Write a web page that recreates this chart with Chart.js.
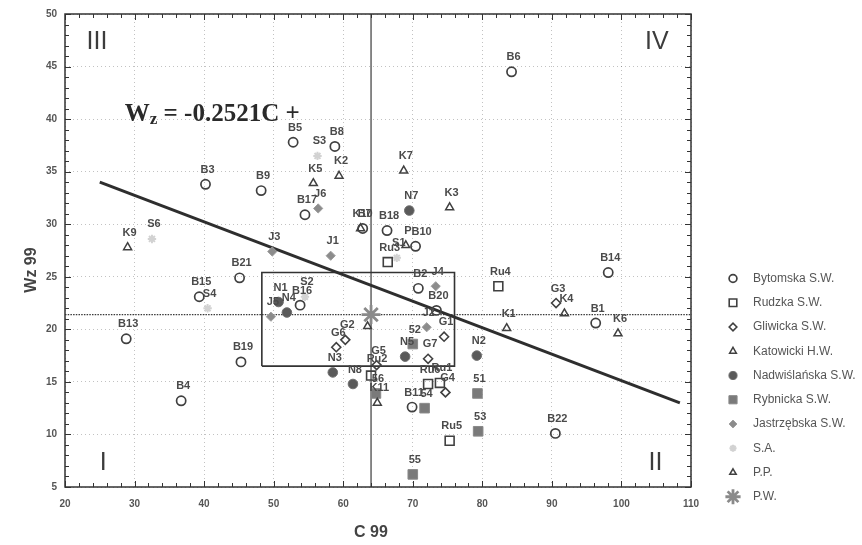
<!DOCTYPE html>
<html>
<head>
<meta charset="utf-8">
<script src="https://cdn.jsdelivr.net/npm/chart.js@4.4.1/dist/chart.umd.min.js"></script>
<style>
html,body{margin:0;padding:0;background:#fff;}
#wrap{position:relative;width:862px;height:545px;}
</style>
</head>
<body>
<div id="wrap"><canvas id="c" width="862" height="545"></canvas></div>
<script>
// ---------------- data ----------------
const xMin = 20, xMax = 110, yMin = 5, yMax = 50;
const xTickValues = [20, 30, 40, 50, 60, 70, 80, 90, 100, 110];
const yTickValues = [5, 10, 15, 20, 25, 30, 35, 40, 45, 50];
const xTitle = 'C 99';
const yTitle = 'Wz 99';

// [label, C 99, Wz 99]
const bytomska = [
  ['B1', 96.3, 20.6], ['B2', 70.8, 23.9], ['B3', 40.2, 33.8], ['B4', 36.7, 13.2],
  ['B5', 52.8, 37.8], ['B6', 84.2, 44.5], ['B7', 62.8, 29.6], ['B8', 58.8, 37.4],
  ['B9', 48.2, 33.2], ['B10', 70.4, 27.9], ['B11', 69.9, 12.6], ['B13', 28.8, 19.1],
  ['B14', 98.1, 25.4], ['B15', 39.3, 23.1], ['B16', 53.8, 22.3], ['B17', 54.5, 30.9],
  ['B18', 66.3, 29.4], ['B19', 45.3, 16.9], ['B20', 73.4, 21.8], ['B21', 45.1, 24.9],
  ['B22', 90.5, 10.1]
];
const rudzka = [
  ['Ru1', 73.9, 14.9], ['Ru2', 64.0, 15.6], ['Ru3', 66.4, 26.4],
  ['Ru4', 82.3, 24.1], ['Ru5', 75.3, 9.4], ['Ru6', 72.2, 14.8]
];
const gliwicka = [
  ['G1', 74.5, 19.3], ['G2', 60.3, 19.0], ['G3', 90.6, 22.5], ['G4', 74.7, 14.0],
  ['G5', 64.8, 16.6], ['G6', 59.0, 18.3], ['G7', 72.2, 17.2]
];
const katowicki = [
  ['K1', 83.5, 20.1], ['K2', 59.4, 34.6], ['K3', 75.3, 31.6], ['K4', 91.8, 21.5],
  ['K5', 55.7, 33.9], ['K6', 99.5, 19.6], ['K7', 68.7, 35.1], ['K9', 29.0, 27.8],
  ['K10', 62.5, 29.6], ['K11', 64.9, 13.0]
];
const nadwislanska = [
  ['N1', 50.7, 22.6], ['N2', 79.2, 17.5], ['N3', 58.5, 15.9], ['N4', 51.9, 21.6],
  ['N5', 68.9, 17.4], ['N7', 69.5, 31.3], ['N8', 61.4, 14.8]
];
const rybnicka = [
  ['51', 79.3, 13.9], ['52', 70.0, 18.6], ['53', 79.4, 10.3],
  ['54', 71.7, 12.5], ['55', 70.0, 6.2], ['56', 64.7, 13.9]
];
const jastrzebska = [
  ['J1', 58.2, 27.0], ['J2', 72.0, 20.2], ['J3', 49.8, 27.4],
  ['J4', 73.3, 24.1], ['J5', 49.6, 21.2], ['J6', 56.4, 31.5]
];
const sa = [
  ['S1', 67.7, 26.8], ['S2', 54.5, 23.1], ['S3', 56.3, 36.5], ['S4', 40.5, 22.0], ['S6', 32.5, 28.6]
];
const pp = [['P', 69.0, 28.0], ['', 63.5, 20.3]];
const pw = [['', 64.0, 21.4]];

const seriesNames = ['Bytomska S.W.', 'Rudzka S.W.', 'Gliwicka S.W.', 'Katowicki H.W.',
  'Nadwiślańska S.W.', 'Rybnicka S.W.', 'Jastrzębska S.W.', 'S.A.', 'P.P.', 'P.W.'];
const seriesRows = [bytomska, rudzka, gliwicka, katowicki, nadwislanska, rybnicka, jastrzebska, sa, pp, pw];

// reference lines, box and trend line
const meanC = 64.0;
const meanW = 21.4;
const boxC = [48.3, 76.0];
const boxW = [16.5, 25.4];
const trendC = [25.0, 108.4];
const trendW = [34.0, 13.0];
const equationParts = ['W', 'z', ' = -0.2521C +'];
const quadrantNames = ['I', 'II', 'III', 'IV'];

// ---------------- styles ----------------
const SANS = "'Liberation Sans', Arial, Helvetica, sans-serif";
const SERIF = "'Liberation Serif', 'Times New Roman', serif";
const seriesStyles = [
  {pointStyle: 'circle',   radius: 4.6, bg: 'rgba(255,255,255,0)', bc: '#404040', bw: 1.7},
  {pointStyle: 'rect',     radius: 6.3, bg: 'rgba(255,255,255,0)', bc: '#404040', bw: 1.6},
  {pointStyle: 'rectRot',  radius: 4.5, bg: 'rgba(255,255,255,0)', bc: '#404040', bw: 1.6},
  {pointStyle: 'triangle', radius: 4.6, bg: 'rgba(255,255,255,0)', bc: '#404040', bw: 1.5},
  {pointStyle: 'circle',   radius: 4.8, bg: '#5a5a5a', bc: '#6e6e6e', bw: 1},
  {pointStyle: 'rect',     radius: 6.8, bg: '#7a7a7a', bc: '#8a8a8a', bw: 1},
  {pointStyle: 'rectRot',  radius: 4.6, bg: '#8c8c8c', bc: '#9c9c9c', bw: 1},
  {pointStyle: 'star',     radius: 4.2, bg: '#d8d8d8', bc: '#d2d2d2', bw: 2},
  {pointStyle: 'triangle', radius: 4.4, bg: 'rgba(255,255,255,0)', bc: '#404040', bw: 1.5},
  {pointStyle: 'star',     radius: 9.5, bg: '#8a8a8a', bc: '#8a8a8a', bw: 2.8}
];
const labelShift = {B10: [6, -14.5], Ru2: [6, -17]};
const LABEL_DX = 2, LABEL_DY = -14.5;

// ---------------- datasets ----------------
const datasets = seriesNames.map((name, i) => ({
  type: 'scatter',
  label: name,
  isSeries: true,
  data: seriesRows[i].map(r => ({x: r[1], y: r[2], tag: r[0]})),
  pointStyle: seriesStyles[i].pointStyle,
  pointRadius: seriesStyles[i].radius,
  pointBackgroundColor: seriesStyles[i].bg,
  pointBorderColor: seriesStyles[i].bc,
  pointBorderWidth: seriesStyles[i].bw,
  showLine: false,
  order: i
}));
datasets.push({
  type: 'line', label: 'trend',
  data: trendC.map((c, k) => ({x: c, y: trendW[k]})),
  borderColor: '#2e2e2e', borderWidth: 3, pointRadius: 0, fill: false, tension: 0, order: 30
});
datasets.push({
  type: 'line', label: 'box',
  data: [{x: boxC[0], y: boxW[0]}, {x: boxC[1], y: boxW[0]}, {x: boxC[1], y: boxW[1]},
         {x: boxC[0], y: boxW[1]}, {x: boxC[0], y: boxW[0]}],
  borderColor: '#333', borderWidth: 1.6, pointRadius: 0, fill: false, tension: 0, order: 31
});
datasets.push({
  type: 'line', label: 'meanC',
  data: [{x: meanC, y: yMin}, {x: meanC, y: yMax}],
  borderColor: '#3a3a3a', borderWidth: 1.2, pointRadius: 0, fill: false, order: 32
});
datasets.push({
  type: 'line', label: 'meanW',
  data: [{x: xMin, y: meanW}, {x: xMax, y: meanW}],
  borderColor: '#3a3a3a', borderWidth: 1.3, borderDash: [1.5, 1.2], pointRadius: 0, fill: false, order: 33
});

// ---------------- decorations plugin ----------------
function drawMarker(ctx, st, x, y, scale) {
  ctx.save();
  ctx.fillStyle = st.bg;
  ctx.strokeStyle = st.bc;
  ctx.lineWidth = st.bw;
  if (Chart.helpers && Chart.helpers.drawPoint) {
    Chart.helpers.drawPoint(ctx, {pointStyle: st.pointStyle, radius: st.radius * scale, rotation: 0, borderWidth: st.bw}, x, y);
  }
  ctx.restore();
}

const decor = {
  id: 'decor',
  afterDatasetsDraw(chart) {
    const ctx = chart.ctx;
    ctx.save();
    ctx.font = 'bold 11px ' + SANS;
    ctx.fillStyle = '#4a4a4a';
    ctx.textAlign = 'center';
    ctx.textBaseline = 'middle';
    chart.data.datasets.forEach((ds, di) => {
      if (!ds.isSeries) return;
      const meta = chart.getDatasetMeta(di);
      meta.data.forEach((el, k) => {
        const tag = ds.data[k].tag;
        if (!tag) return;
        const s = labelShift[tag] || [LABEL_DX, LABEL_DY];
        ctx.fillText(tag, el.x + s[0], el.y + s[1]);
      });
    });
    ctx.restore();
  },
  afterDraw(chart) {
    const ctx = chart.ctx;
    const a = chart.chartArea;
    const xs = chart.scales.x, ys = chart.scales.y;
    ctx.save();
    // frame
    ctx.strokeStyle = '#333';
    ctx.lineWidth = 1.5;
    ctx.strokeRect(a.left, a.top, a.right - a.left, a.bottom - a.top);
    // inward minor ticks
    ctx.lineWidth = 1;
    ctx.beginPath();
    for (let v = xMin; v <= xMax; v += 2) {
      const px = Math.round(xs.getPixelForValue(v)) + 0.5;
      const len = v % 10 === 0 ? 6 : 4;
      ctx.moveTo(px, a.bottom); ctx.lineTo(px, a.bottom - len);
      ctx.moveTo(px, a.top); ctx.lineTo(px, a.top + len);
    }
    for (let v = yMin; v <= yMax; v += 1) {
      const py = Math.round(ys.getPixelForValue(v)) + 0.5;
      const len = v % 5 === 0 ? 6 : 4;
      ctx.moveTo(a.left, py); ctx.lineTo(a.left + len, py);
      ctx.moveTo(a.right, py); ctx.lineTo(a.right - len, py);
    }
    ctx.stroke();

    // quadrant names
    ctx.fillStyle = '#3c3c3c';
    ctx.font = '25px ' + SANS;
    ctx.textAlign = 'center';
    ctx.textBaseline = 'middle';
    const qx = [25.5, 104.9, 24.6, 105.1];
    const qy = [7.3, 7.3, 47.3, 47.3];
    quadrantNames.forEach((q, i) => ctx.fillText(q, xs.getPixelForValue(qx[i]), ys.getPixelForValue(qy[i])));

    // equation
    let ex = xs.getPixelForValue(28.6);
    const ey = ys.getPixelForValue(40.6) + 8;
    ctx.textAlign = 'left';
    ctx.textBaseline = 'alphabetic';
    ctx.fillStyle = '#2a2a2a';
    ctx.font = 'bold 25px ' + SERIF;
    ctx.fillText(equationParts[0], ex, ey);
    ex += ctx.measureText(equationParts[0]).width;
    ctx.font = 'bold 17px ' + SERIF;
    ctx.fillText(equationParts[1], ex, ey + 3);
    ex += ctx.measureText(equationParts[1]).width;
    ctx.font = 'bold 25px ' + SERIF;
    ctx.fillText(equationParts[2], ex, ey);

    // axis titles
    ctx.fillStyle = '#444';
    ctx.font = 'bold 16px ' + SANS;
    ctx.textAlign = 'center';
    ctx.textBaseline = 'middle';
    ctx.fillText(xTitle, 371, 533);
    ctx.save();
    ctx.translate(32, 270);
    ctx.rotate(-Math.PI / 2);
    ctx.fillText(yTitle, 0, 0);
    ctx.restore();

    // legend
    ctx.font = '12px ' + SANS;
    ctx.textAlign = 'left';
    ctx.textBaseline = 'middle';
    seriesNames.forEach((name, i) => {
      const ly = 278.5 + i * 24.25;
      drawMarker(ctx, seriesStyles[i], 733, ly, i === 9 ? 0.8 : 0.85);
      ctx.fillStyle = '#555';
      ctx.fillText(name, 753, ly);
    });
    ctx.restore();
  }
};

// ---------------- chart ----------------
new Chart(document.getElementById('c'), {
  type: 'scatter',
  data: {datasets},
  plugins: [decor],
  options: {
    responsive: false,
    animation: false,
    events: [],
    layout: {padding: {top: 13, right: 171, left: 0, bottom: 0}},
    plugins: {legend: {display: false}, tooltip: {enabled: false}},
    scales: {
      x: {
        type: 'linear', min: xMin, max: xMax,
        afterBuildTicks: s => { s.ticks = xTickValues.map(v => ({value: v})); },
        afterFit: s => { s.height = 58; },
        ticks: {font: {family: SANS, size: 10, weight: 'bold'}, color: '#555', padding: 11, maxRotation: 0, autoSkip: false},
        grid: {color: 'rgba(0,0,0,0.24)', lineWidth: 1, drawTicks: false},
        border: {display: false, dash: [1, 3]}
      },
      y: {
        type: 'linear', min: yMin, max: yMax,
        afterBuildTicks: s => { s.ticks = yTickValues.map(v => ({value: v})); },
        afterFit: s => { s.width = 65; },
        ticks: {font: {family: SANS, size: 10, weight: 'bold'}, color: '#555', padding: 8, autoSkip: false},
        grid: {color: 'rgba(0,0,0,0.24)', lineWidth: 1, drawTicks: false},
        border: {display: false, dash: [1, 3]}
      }
    }
  }
});
</script>
</body>
</html>
